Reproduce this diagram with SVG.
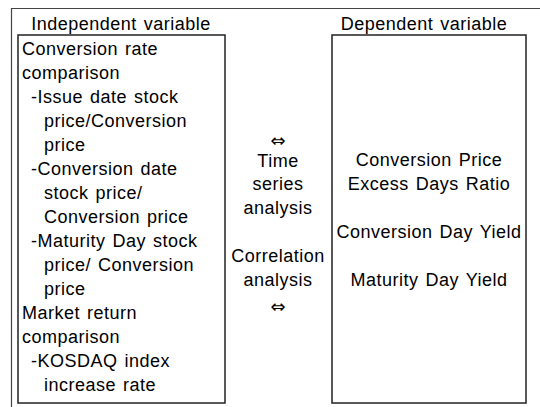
<svg xmlns="http://www.w3.org/2000/svg" width="540" height="407" viewBox="0 0 540 407">
<style>
.t{font-family:"Liberation Sans",Arial,sans-serif;font-size:18px;fill:#000;letter-spacing:0.5px;word-spacing:1.5px}
.c{text-anchor:middle}
.box{fill:#fff;stroke:#222;stroke-width:1.5}
.frame{fill:none;stroke:#444;stroke-width:1.2}
.arr{font-family:"DejaVu Sans",sans-serif;font-size:18px;text-anchor:middle}
</style>
<rect width="540" height="407" fill="#fff"/>
<g id="frame">
<path class="frame" d="M540 8.5H11.5V407"/>
</g>
<g id="independent">
<text class="t c" x="121" y="30">Independent variable</text>
<rect class="box" x="18" y="35" width="207" height="368"/>
<text class="t" x="22" y="55">Conversion rate</text>
<text class="t" x="22" y="79">comparison</text>
<text class="t" x="31" y="103">-Issue date stock</text>
<text class="t" x="44" y="127">price/Conversion</text>
<text class="t" x="44" y="151">price</text>
<text class="t" x="31" y="175">-Conversion date</text>
<text class="t" x="44" y="199">stock price/</text>
<text class="t" x="44" y="223">Conversion price</text>
<text class="t" x="31" y="247">-Maturity Day stock</text>
<text class="t" x="44" y="271">price/ Conversion</text>
<text class="t" x="44" y="295">price</text>
<text class="t" x="22" y="319">Market return</text>
<text class="t" x="22" y="343">comparison</text>
<text class="t" x="31" y="367">-KOSDAQ index</text>
<text class="t" x="44" y="391">increase rate</text>
</g>
<g id="connectors">
<text class="arr" x="278" y="147">⇔</text>
<text class="t c" x="278" y="167">Time</text>
<text class="t c" x="278" y="190">series</text>
<text class="t c" x="278" y="214">analysis</text>
<text class="t c" x="278" y="262">Correlation</text>
<text class="t c" x="278" y="286">analysis</text>
<text class="arr" x="278" y="313">⇔</text>
</g>
<g id="dependent">
<text class="t c" x="424" y="30">Dependent variable</text>
<rect class="box" x="332" y="35" width="194" height="368"/>
<text class="t c" x="429" y="166">Conversion Price</text>
<text class="t c" x="429" y="190">Excess Days Ratio</text>
<text class="t c" x="429" y="238">Conversion Day Yield</text>
<text class="t c" x="429" y="286">Maturity Day Yield</text>
</g>
</svg>
